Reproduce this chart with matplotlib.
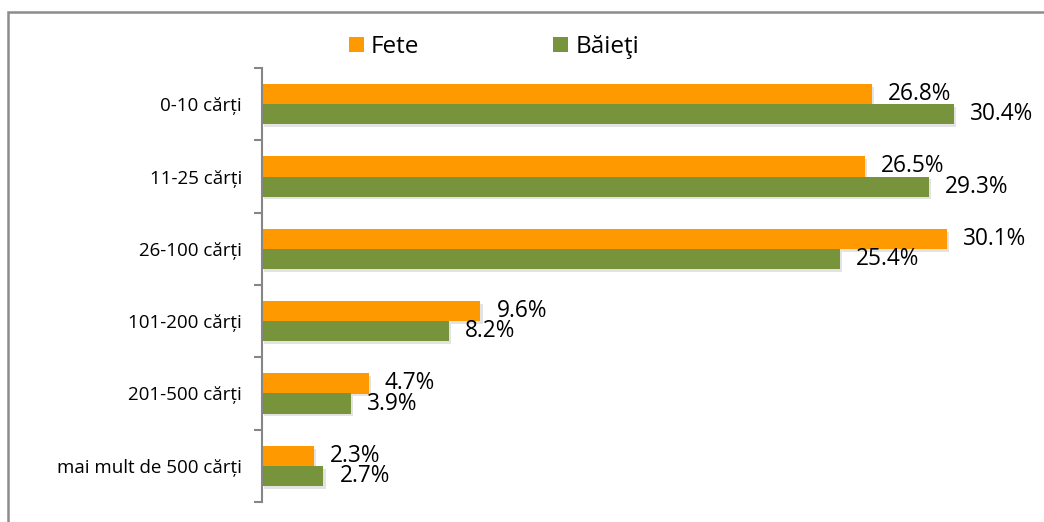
#!/usr/bin/python

import matplotlib as mpl
mpl.use('Agg')
import matplotlib.pyplot as plt
import matplotlib.patheffects as pe
from matplotlib.patches import Rectangle
import numpy as np

categories = ['0-10 cărți', '11-25 cărți', '26-100 cărți', '101-200 cărți',
              '201-500 cărți', 'mai mult de 500 cărți']
fete = [26.8, 26.5, 30.1, 9.6, 4.7, 2.3]
baieti = [30.4, 29.3, 25.4, 8.2, 3.9, 2.7]
series_names = ['Fete', 'Băieţi']

orange = '#FF9900'
green = '#77933C'
grey = '#868686'

W, H = 1044, 522


def px(x0, y0, w, h):
    # pixel box (top-left origin) -> figure fraction
    return [x0 / W, (H - y0 - h) / H, w / W, h / H]


def main():
    plt.rcParams['font.family'] = ['Open Sans', 'DejaVu Sans']
    fig = plt.figure(figsize=(W / 100, H / 100), dpi=100)

    ax = fig.add_axes(px(262, 68, 768, 434))
    y = np.arange(len(categories))
    h = 0.277
    shadow = [pe.SimplePatchShadow(offset=(1.5, -2), shadow_rgbFace='#b0b0b0',
                                   alpha=0.35), pe.Normal()]
    b1 = ax.barh(y - h / 2, fete, height=h, color=orange, label=series_names[0],
                 path_effects=shadow)
    b2 = ax.barh(y + h / 2, baieti, height=h, color=green, label=series_names[1],
                 path_effects=shadow)

    for bars, vals in ((b1, fete), (b2, baieti)):
        for rect, v in zip(bars, vals):
            ax.annotate('%.1f%%' % v,
                        (rect.get_width(), rect.get_y() + rect.get_height() / 2),
                        xytext=(11.5, 0), textcoords='offset points',
                        va='center', ha='left', fontsize=16.3, color='black',
                        annotation_clip=False)

    ax.set_xlim(0, 768 / 22.76)
    ax.set_ylim(len(categories) - 0.5, -0.5)
    ax.set_yticks(y)
    ax.set_yticklabels(categories, fontsize=13.5)
    ax.set_yticks(np.arange(len(categories) + 1) - 0.5, minor=True)
    ax.tick_params(axis='y', which='major', length=0, pad=14.5)
    ax.tick_params(axis='y', which='minor', length=6, width=1.5, color=grey,
                   direction='out')
    ax.set_xticks([])
    for s in ('top', 'right', 'bottom'):
        ax.spines[s].set_visible(False)
    ax.spines['left'].set_color(grey)
    ax.spines['left'].set_linewidth(1.5)

    fig.legend(handles=[b1, b2], labels=series_names, loc='center',
               bbox_to_anchor=(494 / W, 1 - 47 / H), ncol=2, frameon=False,
               fontsize=17.5, handlelength=0.62, handleheight=0.62,
               handletextpad=0.3, columnspacing=5.5, borderpad=0)
    for hnd in fig.legends[0].legend_handles:
        hnd.set_path_effects([])

    fig.patches.append(Rectangle((8 / W, -0.1), 1.2, (H - 12) / H + 0.1,
                                 transform=fig.transFigure, fill=False,
                                 edgecolor='#8C8C8C', linewidth=1.8))

    fig.savefig('out.png', dpi=100)


if __name__ == '__main__':
    main()
